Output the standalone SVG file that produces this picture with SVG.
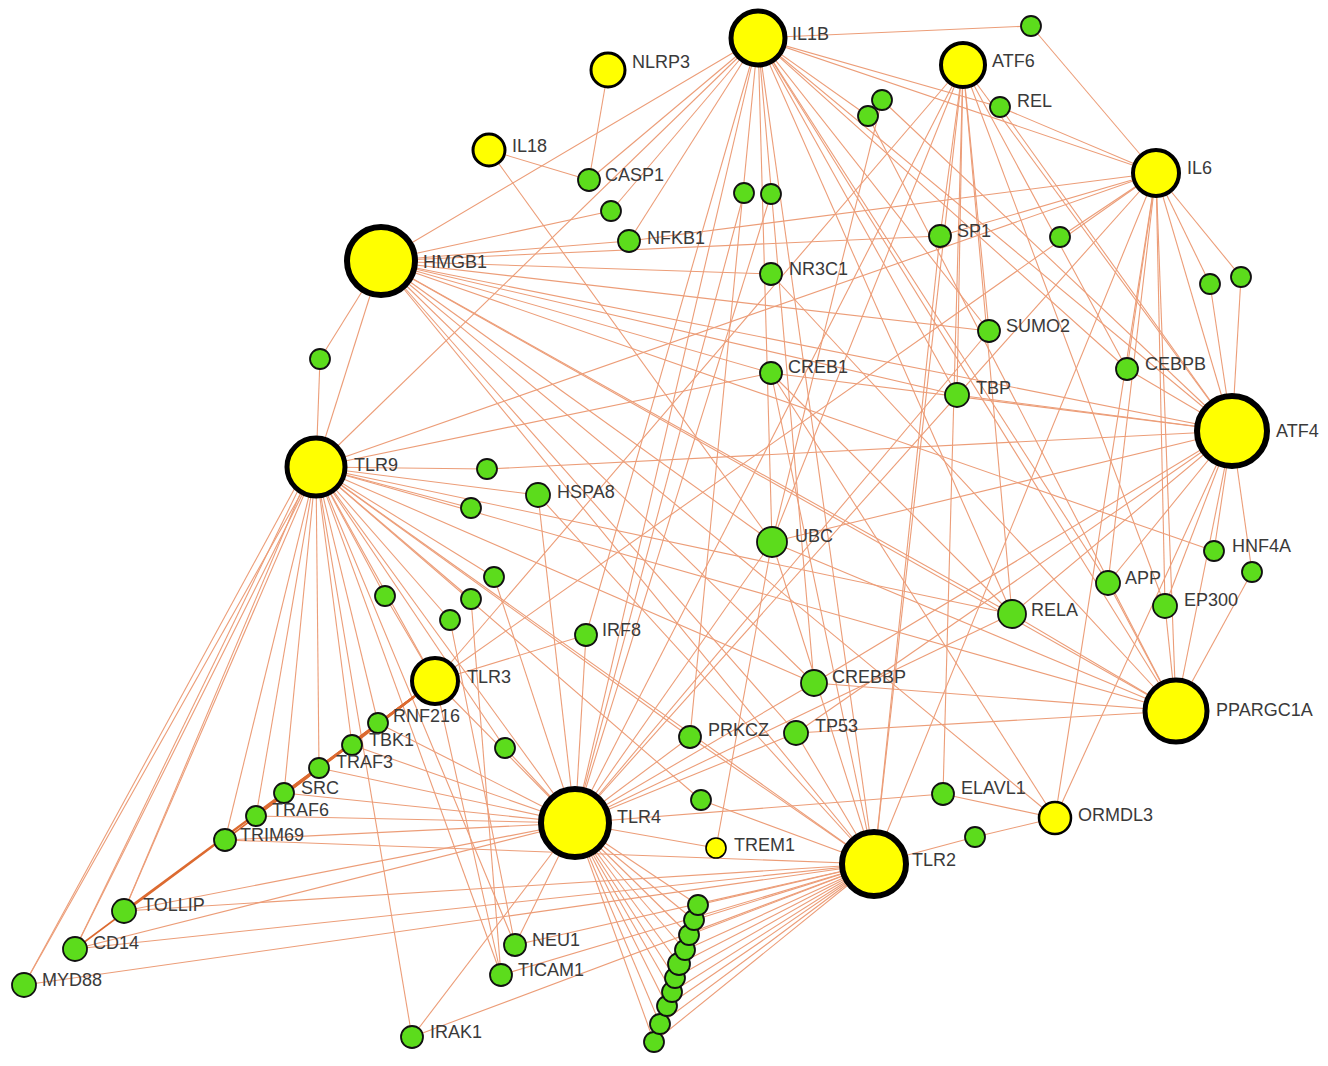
<svg xmlns="http://www.w3.org/2000/svg" width="1328" height="1066" viewBox="0 0 1328 1066">
<style>
.e{stroke:#ec9d78;stroke-width:1.1;fill:none}
.es{stroke:#dc6a30;stroke-width:1.6;fill:none}
.y{fill:#ffff00;stroke:#000}
.g{fill:#5cdc1c;stroke:#111;stroke-width:1.8}
.t{font-family:"Liberation Sans",Arial,sans-serif;font-size:18px;fill:#3a3a3a}
</style>
<rect width="1328" height="1066" fill="#fff"/>
<g id="edges" class="e">
<line x1="758" y1="38" x2="1031" y2="26"/>
<line x1="758" y1="38" x2="1000" y2="107"/>
<line x1="758" y1="38" x2="381" y2="261"/>
<line x1="758" y1="38" x2="611" y2="211"/>
<line x1="758" y1="38" x2="629" y2="241"/>
<line x1="758" y1="38" x2="589" y2="180"/>
<line x1="758" y1="38" x2="586" y2="635"/>
<line x1="758" y1="38" x2="575" y2="823"/>
<line x1="758" y1="38" x2="690" y2="737"/>
<line x1="758" y1="38" x2="874" y2="864"/>
<line x1="758" y1="38" x2="814" y2="683"/>
<line x1="758" y1="38" x2="1012" y2="614"/>
<line x1="758" y1="38" x2="1108" y2="583"/>
<line x1="758" y1="38" x2="1232" y2="431"/>
<line x1="758" y1="38" x2="1127" y2="369"/>
<line x1="758" y1="38" x2="1176" y2="711"/>
<line x1="758" y1="38" x2="989" y2="331"/>
<line x1="758" y1="38" x2="1156" y2="173"/>
<line x1="758" y1="38" x2="772" y2="542"/>
<line x1="758" y1="38" x2="957" y2="395"/>
<line x1="758" y1="38" x2="868" y2="116"/>
<line x1="758" y1="38" x2="316" y2="467"/>
<line x1="608" y1="70" x2="589" y2="180"/>
<line x1="489" y1="150" x2="589" y2="180"/>
<line x1="489" y1="150" x2="772" y2="542"/>
<line x1="1031" y1="26" x2="1156" y2="173"/>
<line x1="1000" y1="107" x2="1156" y2="173"/>
<line x1="1000" y1="107" x2="1232" y2="431"/>
<line x1="963" y1="65" x2="575" y2="823"/>
<line x1="963" y1="65" x2="874" y2="864"/>
<line x1="963" y1="65" x2="940" y2="236"/>
<line x1="963" y1="65" x2="989" y2="331"/>
<line x1="963" y1="65" x2="772" y2="542"/>
<line x1="963" y1="65" x2="1127" y2="369"/>
<line x1="963" y1="65" x2="1012" y2="614"/>
<line x1="963" y1="65" x2="957" y2="395"/>
<line x1="963" y1="65" x2="1232" y2="431"/>
<line x1="963" y1="65" x2="943" y2="794"/>
<line x1="963" y1="65" x2="435" y2="681"/>
<line x1="963" y1="65" x2="1165" y2="606"/>
<line x1="1156" y1="173" x2="629" y2="241"/>
<line x1="1156" y1="173" x2="940" y2="236"/>
<line x1="1156" y1="173" x2="1060" y2="237"/>
<line x1="1156" y1="173" x2="1210" y2="284"/>
<line x1="1156" y1="173" x2="1241" y2="277"/>
<line x1="1156" y1="173" x2="1232" y2="431"/>
<line x1="1156" y1="173" x2="435" y2="681"/>
<line x1="1156" y1="173" x2="575" y2="823"/>
<line x1="1156" y1="173" x2="874" y2="864"/>
<line x1="1156" y1="173" x2="1055" y2="818"/>
<line x1="1156" y1="173" x2="1176" y2="711"/>
<line x1="1156" y1="173" x2="1165" y2="606"/>
<line x1="1156" y1="173" x2="1108" y2="583"/>
<line x1="1156" y1="173" x2="1127" y2="369"/>
<line x1="1156" y1="173" x2="316" y2="467"/>
<line x1="882" y1="100" x2="1232" y2="431"/>
<line x1="882" y1="100" x2="772" y2="542"/>
<line x1="868" y1="116" x2="1176" y2="711"/>
<line x1="1210" y1="284" x2="1232" y2="431"/>
<line x1="1241" y1="277" x2="1232" y2="431"/>
<line x1="381" y1="261" x2="316" y2="467"/>
<line x1="381" y1="261" x2="320" y2="359"/>
<line x1="381" y1="261" x2="940" y2="236"/>
<line x1="381" y1="261" x2="629" y2="241"/>
<line x1="381" y1="261" x2="611" y2="211"/>
<line x1="381" y1="261" x2="771" y2="274"/>
<line x1="381" y1="261" x2="989" y2="331"/>
<line x1="381" y1="261" x2="1232" y2="431"/>
<line x1="381" y1="261" x2="771" y2="373"/>
<line x1="381" y1="261" x2="957" y2="395"/>
<line x1="381" y1="261" x2="772" y2="542"/>
<line x1="381" y1="261" x2="1176" y2="711"/>
<line x1="381" y1="261" x2="1012" y2="614"/>
<line x1="381" y1="261" x2="874" y2="864"/>
<line x1="381" y1="261" x2="814" y2="683"/>
<line x1="381" y1="261" x2="796" y2="733"/>
<line x1="381" y1="261" x2="1214" y2="551"/>
<line x1="381" y1="261" x2="1055" y2="818"/>
<line x1="320" y1="359" x2="316" y2="467"/>
<line x1="316" y1="467" x2="771" y2="373"/>
<line x1="316" y1="467" x2="487" y2="469"/>
<line x1="316" y1="467" x2="538" y2="495"/>
<line x1="316" y1="467" x2="471" y2="508"/>
<line x1="316" y1="467" x2="1176" y2="711"/>
<line x1="316" y1="467" x2="385" y2="596"/>
<line x1="316" y1="467" x2="494" y2="577"/>
<line x1="316" y1="467" x2="471" y2="599"/>
<line x1="316" y1="467" x2="450" y2="620"/>
<line x1="316" y1="467" x2="435" y2="681"/>
<line x1="316" y1="467" x2="575" y2="823"/>
<line x1="316" y1="467" x2="378" y2="723"/>
<line x1="316" y1="467" x2="352" y2="745"/>
<line x1="316" y1="467" x2="319" y2="768"/>
<line x1="316" y1="467" x2="284" y2="793"/>
<line x1="316" y1="467" x2="256" y2="816"/>
<line x1="316" y1="467" x2="225" y2="840"/>
<line x1="316" y1="467" x2="124" y2="911"/>
<line x1="316" y1="467" x2="75" y2="949"/>
<line x1="316" y1="467" x2="24" y2="985"/>
<line x1="302" y1="475" x2="24" y2="985"/>
<line x1="304" y1="478" x2="75" y2="949"/>
<line x1="306" y1="480" x2="124" y2="911"/>
<line x1="316" y1="467" x2="412" y2="1037"/>
<line x1="316" y1="467" x2="515" y2="945"/>
<line x1="316" y1="467" x2="501" y2="975"/>
<line x1="316" y1="467" x2="505" y2="748"/>
<line x1="316" y1="467" x2="874" y2="864"/>
<line x1="316" y1="467" x2="690" y2="737"/>
<line x1="316" y1="467" x2="701" y2="800"/>
<line x1="316" y1="467" x2="814" y2="683"/>
<line x1="316" y1="467" x2="1012" y2="614"/>
<line x1="487" y1="469" x2="1232" y2="431"/>
<line x1="385" y1="596" x2="435" y2="681"/>
<line x1="494" y1="577" x2="575" y2="823"/>
<line x1="471" y1="599" x2="501" y2="975"/>
<line x1="450" y1="620" x2="515" y2="945"/>
<line x1="538" y1="495" x2="575" y2="823"/>
<line x1="538" y1="495" x2="874" y2="864"/>
<line x1="772" y1="542" x2="575" y2="823"/>
<line x1="772" y1="542" x2="874" y2="864"/>
<line x1="772" y1="542" x2="1232" y2="431"/>
<line x1="772" y1="542" x2="1176" y2="711"/>
<line x1="772" y1="542" x2="716" y2="848"/>
<line x1="771" y1="373" x2="1012" y2="614"/>
<line x1="771" y1="373" x2="1232" y2="431"/>
<line x1="771" y1="373" x2="874" y2="864"/>
<line x1="771" y1="373" x2="1055" y2="818"/>
<line x1="771" y1="274" x2="1176" y2="711"/>
<line x1="940" y1="236" x2="874" y2="864"/>
<line x1="989" y1="331" x2="575" y2="823"/>
<line x1="957" y1="395" x2="1232" y2="431"/>
<line x1="1127" y1="369" x2="1232" y2="431"/>
<line x1="1108" y1="583" x2="1232" y2="431"/>
<line x1="1108" y1="583" x2="1176" y2="711"/>
<line x1="1165" y1="606" x2="1232" y2="431"/>
<line x1="1165" y1="606" x2="1176" y2="711"/>
<line x1="1214" y1="551" x2="1232" y2="431"/>
<line x1="1252" y1="572" x2="1232" y2="431"/>
<line x1="1252" y1="572" x2="1176" y2="711"/>
<line x1="1012" y1="614" x2="575" y2="823"/>
<line x1="1012" y1="614" x2="1176" y2="711"/>
<line x1="1012" y1="614" x2="1232" y2="431"/>
<line x1="814" y1="683" x2="1232" y2="431"/>
<line x1="814" y1="683" x2="1176" y2="711"/>
<line x1="814" y1="683" x2="575" y2="823"/>
<line x1="796" y1="733" x2="575" y2="823"/>
<line x1="796" y1="733" x2="1176" y2="711"/>
<line x1="796" y1="733" x2="1232" y2="431"/>
<line x1="796" y1="733" x2="874" y2="864"/>
<line x1="690" y1="737" x2="575" y2="823"/>
<line x1="690" y1="737" x2="874" y2="864"/>
<line x1="701" y1="800" x2="874" y2="864"/>
<line x1="943" y1="794" x2="575" y2="823"/>
<line x1="943" y1="794" x2="1055" y2="818"/>
<line x1="975" y1="837" x2="874" y2="864"/>
<line x1="975" y1="837" x2="1055" y2="818"/>
<line x1="1055" y1="818" x2="1232" y2="431"/>
<line x1="1176" y1="711" x2="1232" y2="431"/>
<line x1="744" y1="193" x2="575" y2="823"/>
<line x1="771" y1="194" x2="575" y2="823"/>
<line x1="575" y1="823" x2="124" y2="911"/>
<line x1="575" y1="823" x2="75" y2="949"/>
<line x1="575" y1="823" x2="225" y2="840"/>
<line x1="575" y1="823" x2="256" y2="816"/>
<line x1="575" y1="823" x2="284" y2="793"/>
<line x1="575" y1="823" x2="319" y2="768"/>
<line x1="575" y1="823" x2="352" y2="745"/>
<line x1="575" y1="823" x2="378" y2="723"/>
<line x1="575" y1="823" x2="515" y2="945"/>
<line x1="575" y1="823" x2="412" y2="1037"/>
<line x1="575" y1="823" x2="716" y2="848"/>
<line x1="575" y1="823" x2="505" y2="748"/>
<line x1="575" y1="823" x2="586" y2="635"/>
<line x1="575" y1="823" x2="435" y2="681"/>
<line x1="575" y1="823" x2="698" y2="905"/>
<line x1="575" y1="823" x2="694" y2="920"/>
<line x1="575" y1="823" x2="689" y2="935"/>
<line x1="575" y1="823" x2="685" y2="950"/>
<line x1="575" y1="823" x2="679" y2="964"/>
<line x1="575" y1="823" x2="675" y2="978"/>
<line x1="575" y1="823" x2="672" y2="992"/>
<line x1="575" y1="823" x2="667" y2="1006"/>
<line x1="575" y1="823" x2="660" y2="1024"/>
<line x1="575" y1="823" x2="654" y2="1042"/>
<line x1="874" y1="864" x2="24" y2="985"/>
<line x1="874" y1="864" x2="75" y2="949"/>
<line x1="874" y1="864" x2="124" y2="911"/>
<line x1="874" y1="864" x2="501" y2="975"/>
<line x1="874" y1="864" x2="515" y2="945"/>
<line x1="874" y1="864" x2="412" y2="1037"/>
<line x1="874" y1="864" x2="225" y2="840"/>
<line x1="874" y1="864" x2="698" y2="905"/>
<line x1="874" y1="864" x2="694" y2="920"/>
<line x1="874" y1="864" x2="689" y2="935"/>
<line x1="874" y1="864" x2="685" y2="950"/>
<line x1="874" y1="864" x2="679" y2="964"/>
<line x1="874" y1="864" x2="675" y2="978"/>
<line x1="874" y1="864" x2="672" y2="992"/>
<line x1="874" y1="864" x2="667" y2="1006"/>
<line x1="874" y1="864" x2="660" y2="1024"/>
<line x1="874" y1="864" x2="654" y2="1042"/>
<line x1="435" y1="681" x2="501" y2="975"/>
<line x1="435" y1="681" x2="586" y2="635"/>
<g class="es">
<line x1="435" y1="681" x2="378" y2="723"/>
<line x1="435" y1="681" x2="352" y2="745"/>
<line x1="435" y1="681" x2="319" y2="768"/>
<line x1="435" y1="681" x2="284" y2="793"/>
<line x1="435" y1="681" x2="256" y2="816"/>
<line x1="435" y1="681" x2="225" y2="840"/>
<line x1="435" y1="681" x2="124" y2="911"/>
<line x1="435" y1="681" x2="75" y2="949"/>
</g>
</g>
<g id="n-IL1B"><circle class="y" cx="758" cy="38" r="27" stroke-width="5"/><text class="t" x="792" y="40">IL1B</text></g>
<g id="n-NLRP3"><circle class="y" cx="608" cy="70" r="17" stroke-width="3"/><text class="t" x="632" y="68">NLRP3</text></g>
<g id="n-IL18"><circle class="y" cx="489" cy="150" r="16" stroke-width="3"/><text class="t" x="512" y="152">IL18</text></g>
<g id="n-ATF6"><circle class="y" cx="963" cy="65" r="22" stroke-width="4"/><text class="t" x="992" y="67">ATF6</text></g>
<g id="n-IL6"><circle class="y" cx="1156" cy="173" r="23" stroke-width="4"/><text class="t" x="1187" y="174">IL6</text></g>
<g id="n-HMGB1"><circle class="y" cx="381" cy="261" r="34" stroke-width="6"/><text class="t" x="423" y="268">HMGB1</text></g>
<g id="n-TLR9"><circle class="y" cx="316" cy="467" r="29" stroke-width="5"/><text class="t" x="354" y="471">TLR9</text></g>
<g id="n-ATF4"><circle class="y" cx="1232" cy="431" r="35" stroke-width="6"/><text class="t" x="1276" y="437">ATF4</text></g>
<g id="n-TLR3"><circle class="y" cx="435" cy="681" r="23" stroke-width="4"/><text class="t" x="467" y="683">TLR3</text></g>
<g id="n-PPARGC1A"><circle class="y" cx="1176" cy="711" r="31" stroke-width="5"/><text class="t" x="1216" y="716">PPARGC1A</text></g>
<g id="n-TLR4"><circle class="y" cx="575" cy="823" r="34" stroke-width="6"/><text class="t" x="617" y="823">TLR4</text></g>
<g id="n-TLR2"><circle class="y" cx="874" cy="864" r="32" stroke-width="6"/><text class="t" x="912" y="866">TLR2</text></g>
<g id="n-ORMDL3"><circle class="y" cx="1055" cy="818" r="16" stroke-width="2.5"/><text class="t" x="1078" y="821">ORMDL3</text></g>
<g id="n-TREM1"><circle class="y" cx="716" cy="848" r="10" stroke-width="1.6"/><text class="t" x="734" y="851">TREM1</text></g>
<g id="n-g1"><circle class="g" cx="1031" cy="26" r="10"/></g>
<g id="n-REL"><circle class="g" cx="1000" cy="107" r="10"/><text class="t" x="1017" y="107">REL</text></g>
<g id="n-g2"><circle class="g" cx="882" cy="100" r="10"/></g>
<g id="n-g3"><circle class="g" cx="868" cy="116" r="10"/></g>
<g id="n-CASP1"><circle class="g" cx="589" cy="180" r="11"/><text class="t" x="605" y="181">CASP1</text></g>
<g id="n-g4"><circle class="g" cx="611" cy="211" r="10"/></g>
<g id="n-NFKB1"><circle class="g" cx="629" cy="241" r="11"/><text class="t" x="647" y="244">NFKB1</text></g>
<g id="n-g5"><circle class="g" cx="744" cy="193" r="10"/></g>
<g id="n-g6"><circle class="g" cx="771" cy="194" r="10"/></g>
<g id="n-SP1"><circle class="g" cx="940" cy="236" r="11"/><text class="t" x="957" y="237">SP1</text></g>
<g id="n-g7"><circle class="g" cx="1060" cy="237" r="10"/></g>
<g id="n-NR3C1"><circle class="g" cx="771" cy="274" r="11"/><text class="t" x="789" y="275">NR3C1</text></g>
<g id="n-g8"><circle class="g" cx="1210" cy="284" r="10"/></g>
<g id="n-g9"><circle class="g" cx="1241" cy="277" r="10"/></g>
<g id="n-SUMO2"><circle class="g" cx="989" cy="331" r="11"/><text class="t" x="1006" y="332">SUMO2</text></g>
<g id="n-g10"><circle class="g" cx="320" cy="359" r="10"/></g>
<g id="n-CREB1"><circle class="g" cx="771" cy="373" r="11"/><text class="t" x="788" y="373">CREB1</text></g>
<g id="n-CEBPB"><circle class="g" cx="1127" cy="369" r="11"/><text class="t" x="1145" y="370">CEBPB</text></g>
<g id="n-TBP"><circle class="g" cx="957" cy="395" r="12"/><text class="t" x="976" y="394">TBP</text></g>
<g id="n-g11"><circle class="g" cx="487" cy="469" r="10"/></g>
<g id="n-HSPA8"><circle class="g" cx="538" cy="495" r="12"/><text class="t" x="557" y="498">HSPA8</text></g>
<g id="n-g12"><circle class="g" cx="471" cy="508" r="10"/></g>
<g id="n-UBC"><circle class="g" cx="772" cy="542" r="15"/><text class="t" x="795" y="542">UBC</text></g>
<g id="n-HNF4A"><circle class="g" cx="1214" cy="551" r="10"/><text class="t" x="1232" y="552">HNF4A</text></g>
<g id="n-g13"><circle class="g" cx="1252" cy="572" r="10"/></g>
<g id="n-APP"><circle class="g" cx="1108" cy="583" r="12"/><text class="t" x="1125" y="584">APP</text></g>
<g id="n-EP300"><circle class="g" cx="1165" cy="606" r="12"/><text class="t" x="1184" y="606">EP300</text></g>
<g id="n-RELA"><circle class="g" cx="1012" cy="614" r="14"/><text class="t" x="1031" y="616">RELA</text></g>
<g id="n-g14"><circle class="g" cx="385" cy="596" r="10"/></g>
<g id="n-g15"><circle class="g" cx="494" cy="577" r="10"/></g>
<g id="n-g16"><circle class="g" cx="471" cy="599" r="10"/></g>
<g id="n-g17"><circle class="g" cx="450" cy="620" r="10"/></g>
<g id="n-IRF8"><circle class="g" cx="586" cy="635" r="11"/><text class="t" x="602" y="636">IRF8</text></g>
<g id="n-CREBBP"><circle class="g" cx="814" cy="683" r="13"/><text class="t" x="832" y="683">CREBBP</text></g>
<g id="n-RNF216"><circle class="g" cx="378" cy="723" r="10"/><text class="t" x="393" y="722">RNF216</text></g>
<g id="n-TBK1"><circle class="g" cx="352" cy="745" r="10"/><text class="t" x="369" y="746">TBK1</text></g>
<g id="n-TRAF3"><circle class="g" cx="319" cy="768" r="10"/><text class="t" x="336" y="768">TRAF3</text></g>
<g id="n-SRC"><circle class="g" cx="284" cy="793" r="10"/><text class="t" x="301" y="794">SRC</text></g>
<g id="n-TRAF6"><circle class="g" cx="256" cy="816" r="10"/><text class="t" x="272" y="816">TRAF6</text></g>
<g id="n-TRIM69"><circle class="g" cx="225" cy="840" r="11"/><text class="t" x="240" y="841">TRIM69</text></g>
<g id="n-g18"><circle class="g" cx="505" cy="748" r="10"/></g>
<g id="n-PRKCZ"><circle class="g" cx="690" cy="737" r="11"/><text class="t" x="708" y="736">PRKCZ</text></g>
<g id="n-TP53"><circle class="g" cx="796" cy="733" r="12"/><text class="t" x="815" y="732">TP53</text></g>
<g id="n-g19"><circle class="g" cx="701" cy="800" r="10"/></g>
<g id="n-ELAVL1"><circle class="g" cx="943" cy="794" r="11"/><text class="t" x="961" y="794">ELAVL1</text></g>
<g id="n-g20"><circle class="g" cx="975" cy="837" r="10"/></g>
<g id="n-TOLLIP"><circle class="g" cx="124" cy="911" r="12"/><text class="t" x="143" y="911">TOLLIP</text></g>
<g id="n-CD14"><circle class="g" cx="75" cy="949" r="12"/><text class="t" x="93" y="949">CD14</text></g>
<g id="n-MYD88"><circle class="g" cx="24" cy="985" r="12"/><text class="t" x="42" y="986">MYD88</text></g>
<g id="n-NEU1"><circle class="g" cx="515" cy="945" r="11"/><text class="t" x="532" y="946">NEU1</text></g>
<g id="n-TICAM1"><circle class="g" cx="501" cy="975" r="11"/><text class="t" x="518" y="976">TICAM1</text></g>
<g id="n-IRAK1"><circle class="g" cx="412" cy="1037" r="11"/><text class="t" x="430" y="1038">IRAK1</text></g>
<g id="n-c10"><circle class="g" cx="654" cy="1042" r="10"/></g>
<g id="n-c9"><circle class="g" cx="660" cy="1024" r="10"/></g>
<g id="n-c8"><circle class="g" cx="667" cy="1006" r="10"/></g>
<g id="n-c7"><circle class="g" cx="672" cy="992" r="10"/></g>
<g id="n-c6"><circle class="g" cx="675" cy="978" r="10"/></g>
<g id="n-c5"><circle class="g" cx="679" cy="964" r="11"/></g>
<g id="n-c4"><circle class="g" cx="685" cy="950" r="10"/></g>
<g id="n-c3"><circle class="g" cx="689" cy="935" r="10"/></g>
<g id="n-c2"><circle class="g" cx="694" cy="920" r="10"/></g>
<g id="n-c1"><circle class="g" cx="698" cy="905" r="10"/></g>
</svg>
